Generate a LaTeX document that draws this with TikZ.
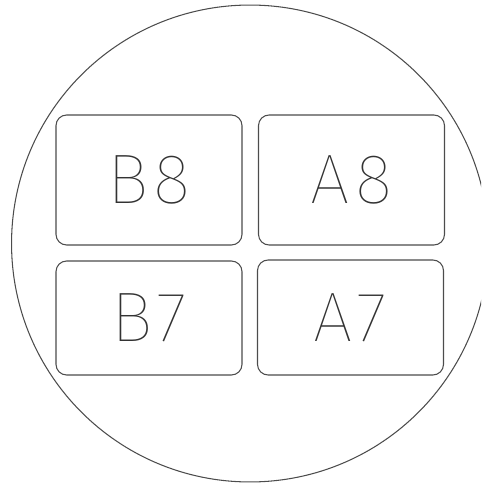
\documentclass[tikz,border=0pt]{standalone}
\usepackage{fontspec}
\setmainfont{Fira Sans}[UprightFont=* Thin, LetterSpace=8]
\usepackage{tikz}
\usetikzlibrary{positioning}

\begin{document}
\begin{tikzpicture}[
x=0.02cm, y=-0.02cm,
panel/.style={draw=black!70, line width=0.6pt, rounded corners=6pt, minimum width=3.72cm, text=black!80, font=\fontsize{40}{44}\selectfont},
rim/.style={draw=black!70, line width=0.6pt}
]
\useasboundingbox (0,0) rectangle (481,483);
\clip (0,0) rectangle (481,483);
\draw[rim] (250,243.5) circle[radius=4.77cm];
\node[panel, minimum height=2.6cm] (b8) at (149,180) {B8};
\node[panel, minimum height=2.6cm] (a8) at (351.5,180) {A8};
\node[panel, minimum height=2.28cm] (b7) at (149,318) {B7};
\node[panel, minimum height=2.3cm] (a7) at (350.5,317.5) {A7};
\end{tikzpicture}
\end{document}
